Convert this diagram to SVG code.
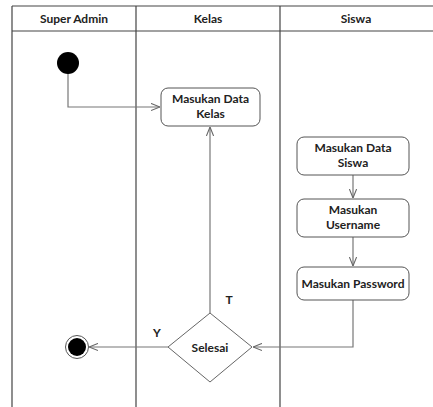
<svg xmlns="http://www.w3.org/2000/svg" width="433" height="407" viewBox="0 0 433 407">
<defs>
<marker id="arr" viewBox="0 0 10 10" refX="10" refY="5" markerWidth="9" markerHeight="9" markerUnits="userSpaceOnUse" orient="auto">
<path d="M0,1 L10,5 L0,9" fill="none" stroke="#666" stroke-width="1.2"/>
</marker>
<style>
text{font-family:Lato,"Liberation Sans",sans-serif;font-weight:bold;font-size:12px;fill:#222;text-anchor:middle}
.lane{stroke:#444;stroke-width:1.2;fill:none}
.act{fill:#fff;stroke:#555;stroke-width:1}
.conn{stroke:#777;stroke-width:1.2;fill:none;marker-end:url(#arr)}
.plain{stroke:#777;stroke-width:1.2;fill:none}
</style>
</defs>
<rect width="433" height="407" fill="#fff"/>
<g id="swimlanes">
<line class="lane" x1="12" y1="6" x2="433" y2="6"/>
<line class="lane" x1="12" y1="31" x2="433" y2="31"/>
<line class="lane" x1="12" y1="6" x2="12" y2="407"/>
<line class="lane" x1="136" y1="6" x2="136" y2="407"/>
<line class="lane" x1="280" y1="6" x2="280" y2="407"/>
<text x="74" y="23">Super Admin</text>
<text x="208" y="23">Kelas</text>
<text x="356" y="23">Siswa</text>
</g>
<g id="connectors">
<polyline class="conn" points="68,73 68,107 160,107"/>
<line class="conn" x1="210" y1="313" x2="210" y2="127"/>
<line class="conn" x1="353" y1="175" x2="353" y2="198"/>
<line class="conn" x1="353" y1="237" x2="353" y2="266"/>
<polyline class="conn" points="353,300 353,347 253,347"/>
<line class="conn" x1="168" y1="347" x2="89" y2="347"/>
<text x="229" y="304">T</text>
<text x="157" y="337">Y</text>
</g>
<g id="start">
<circle cx="68" cy="63" r="11" fill="#000"/>
</g>
<g id="masukan-data-kelas">
<rect class="act" x="161" y="88" width="99" height="38" rx="7"/>
<text x="210.5" y="103">Masukan Data</text>
<text x="210.5" y="118">Kelas</text>
</g>
<g id="masukan-data-siswa">
<rect class="act" x="297" y="137" width="112" height="38" rx="7"/>
<text x="353" y="152">Masukan Data</text>
<text x="353" y="167">Siswa</text>
</g>
<g id="masukan-username">
<rect class="act" x="297" y="199" width="112" height="38" rx="7"/>
<text x="353" y="214">Masukan</text>
<text x="353" y="229">Username</text>
</g>
<g id="masukan-password">
<rect class="act" x="297" y="267" width="112" height="33" rx="7"/>
<text x="353" y="288">Masukan Password</text>
</g>
<g id="selesai">
<polygon points="210,313 252,347 210,382 168,347" fill="#fff" stroke="#666" stroke-width="1"/>
<text x="210" y="352">Selesai</text>
</g>
<g id="end">
<circle cx="77" cy="347" r="11.5" fill="#fff" stroke="#555" stroke-width="1"/>
<circle cx="77" cy="347" r="9" fill="#000"/>
</g>
</svg>
